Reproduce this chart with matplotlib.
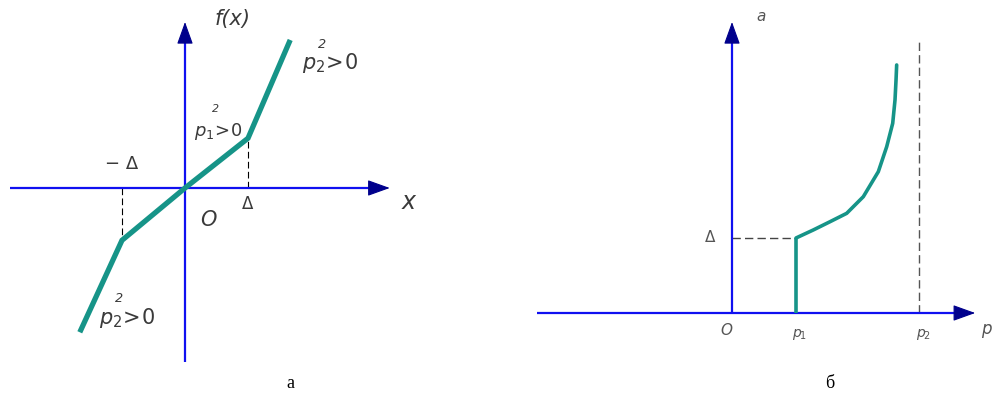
import numpy as np
import matplotlib.pyplot as plt

# ступенчатая характеристика f(x) (в единицах Δ)
x_knots = [-1.67, -1.0, 0.0, 1.0, 1.67]
f_knots = [-2.29, -0.83, 0.0, 0.79, 2.35]
delta = 1.0

# зависимость a(p): p1 = 1, p2 - асимптота
p1 = 1.0
p2 = 2.92
p_curve = [1.0, 1.27, 1.531, 1.792, 2.052, 2.286, 2.417, 2.511, 2.547, 2.563, 2.573]
a_curve = [1.0, 1.107, 1.217, 1.329, 1.551, 1.884, 2.217, 2.529, 2.84, 3.107, 3.307]
a_delta = 1.0

BLUE = '#1010f0'
NAVY = '#00008c'
GREEN = '#169488'
TXT = '#3a3a3a'

W, H = 994, 399
fig = plt.figure(figsize=(W / 100, H / 100), dpi=100)
fig.patch.set_facecolor('white')


def axis_arrow(ax, start, tip, base):
    ax.plot([start[0], base[0]], [start[1], base[1]], color=BLUE, lw=1.6,
            solid_capstyle='butt', zorder=2)
    ax.annotate('', xy=tip, xytext=base,
                arrowprops=dict(arrowstyle='-|>,head_length=1.0,head_width=0.36',
                                color=NAVY, lw=0.8, shrinkA=0, shrinkB=0,
                                mutation_scale=14), zorder=3)


def coef_label(ax, x, y, idx, fs, dx, dy):
    # p_i > 0 с квадратом, вынесенным над буквой
    ax.text(x, y, r'$p_{%d}\!>\!0$' % idx, fontsize=fs, ha='center', va='center', color=TXT)
    ax.text(x + dx, y + dy, '2', fontsize=fs * 0.62, ha='center', va='center',
            color=TXT, fontstyle='italic')


# --- а) ---
sx = 63.0  # пикселей на единицу
ax1 = fig.add_axes([0, 0, 1, 1])
ax1.set_xlim(-185 / sx, (W - 185) / sx)
ax1.set_ylim((188 - H) / sx, 188 / sx)
ax1.axis('off')
ax1.patch.set_alpha(0)

axis_arrow(ax1, (-2.78, 0), (3.25, 0), (2.94, 0))
axis_arrow(ax1, (0, -2.76), (0, 2.635), (0, 2.32))

ax1.plot([delta, delta], [0, f_knots[3]], color='k', lw=0.8, ls=(0, (6, 3)), zorder=1)
ax1.plot([-delta, -delta], [0, f_knots[1]], color='k', lw=0.8, ls=(0, (6, 3)), zorder=1)
ax1.plot(x_knots, f_knots, color=GREEN, lw=3.8, solid_capstyle='butt',
         solid_joinstyle='miter', zorder=4)

it = dict(color=TXT, fontstyle='italic', family='DejaVu Sans')
ax1.text(0.75, 2.68, 'f(x)', fontsize=15, ha='center', va='center', **it)
coef_label(ax1, 2.3, 1.98, 2, 15, -0.12, 0.3)
coef_label(ax1, 0.52, 0.9, 1, 13, -0.03, 0.36)
coef_label(ax1, -0.92, -2.06, 2, 15, -0.12, 0.3)
ax1.text(-1.0, 0.38, '− Δ', fontsize=13, ha='center', va='center', color=TXT)
ax1.text(delta, -0.25, 'Δ', fontsize=12, ha='center', va='center', color=TXT)
ax1.text(0.37, -0.5, 'O', fontsize=15, ha='center', va='center', **it)
ax1.text(3.55, -0.22, 'x', fontsize=17, ha='center', va='center', **it)
ax1.text((290 - 185) / sx, (188 - 383) / sx, 'а', fontsize=13, ha='center',
         va='center', family='Liberation Serif', color='k')

# --- б) ---
px, py = 64.0, 75.0
ax2 = fig.add_axes([0, 0, 1, 1])
ax2.set_xlim(-732 / px, (W - 732) / px)
ax2.set_ylim((313 - H) / py, 313 / py)
ax2.axis('off')
ax2.patch.set_alpha(0)

axis_arrow(ax2, (-3.05, 0), (3.80, 0), (3.48, 0))
axis_arrow(ax2, (0, 0), (0, 3.88), (0, 3.61))

ax2.plot([0, p1], [a_delta, a_delta], color='#444444', lw=1.0, ls=(0, (6, 3)), zorder=1)
ax2.plot([p2, p2], [0, 3.61], color='#555555', lw=1.0, ls=(0, (6, 3)), zorder=1)
ax2.plot([p1, p1], [0, a_delta], color=GREEN, lw=2.6, solid_capstyle='butt', zorder=4)
ax2.plot(p_curve, a_curve, color=GREEN, lw=2.6, solid_capstyle='round',
         solid_joinstyle='round', zorder=4)

it2 = dict(color='#555555', fontstyle='italic', family='DejaVu Sans')
ax2.text(0.45, 3.95, 'a', fontsize=11, ha='center', va='center', **it2)
ax2.text(-0.35, a_delta, 'Δ', fontsize=11, ha='center', va='center', color='#555555')
ax2.text(-0.08, -0.23, 'O', fontsize=11, ha='center', va='center', **it2)
ax2.text(p1 + 0.05, -0.29, r'$p_{\!1}$', fontsize=10, ha='center', va='center', color='#555555')
ax2.text(p2 + 0.07, -0.29, r'$p_{\!2}$', fontsize=10, ha='center', va='center', color='#555555')
ax2.text(3.98, -0.22, 'p', fontsize=12, ha='center', va='center', **it2)
ax2.text((830 - 732) / px, (313 - 383) / py, 'б', fontsize=13, ha='center',
         va='center', family='Liberation Serif', color='k')

fig.savefig('out.png', dpi=100, facecolor='white')
